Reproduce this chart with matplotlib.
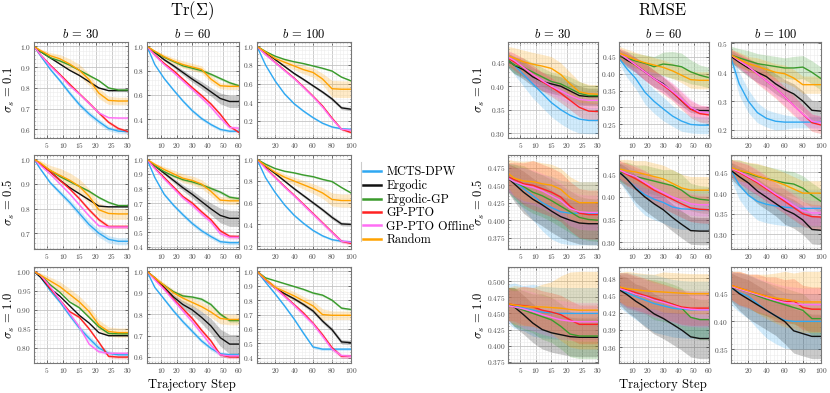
import matplotlib
matplotlib.use("Agg")
import matplotlib.pyplot as plt
from matplotlib.lines import Line2D
from matplotlib.ticker import MultipleLocator, AutoMinorLocator

plt.rcParams["font.family"] = "serif"
plt.rcParams["font.serif"] = ["cmr10"]
plt.rcParams["mathtext.fontset"] = "cm"
plt.rcParams["axes.formatter.use_mathtext"] = True

methods = ["MCTS-DPW", "Ergodic", "Ergodic-GP", "GP-PTO", "GP-PTO Offline", "Random"]
colors = ["#2fa8f2", "#111111", "#3a9b2c", "#ff2222", "#ff6ef5", "#ffa200"]
sigmas = ["0.1", "0.5", "1.0"]
budgets = [30, 60, 100]

steps_b30 = [1, 3, 6, 9, 12, 15, 18, 21, 24, 27, 30]
steps_b60 = [1, 6, 12, 18, 24, 30, 36, 42, 48, 54, 60]
steps_b100 = [1, 10, 20, 30, 40, 50, 60, 70, 80, 90, 100]

# ---- Tr(Sigma): [sigma row][budget col] ----
tr_mcts = [
    [[1.0, .955, .89, .835, .775, .72, .675, .638, .605, .592, .59],
     [1.0, .85, .735, .64, .55, .47, .405, .355, .315, .30, .30],
     [1.0, .80, .63, .49, .385, .305, .235, .175, .135, .115, .11]],
    [[1.0, .96, .905, .865, .825, .78, .735, .70, .675, .667, .667],
     [1.0, .875, .76, .685, .62, .56, .51, .47, .435, .428, .428],
     [1.0, .83, .695, .58, .485, .41, .345, .295, .26, .245, .24]],
    [[1.0, .985, .95, .92, .885, .852, .825, .80, .786, .782, .782],
     [1.0, .925, .87, .815, .765, .72, .675, .64, .615, .61, .61],
     [1.0, .925, .845, .76, .67, .57, .475, .46, .46, .46, .46]],
]
tr_erg = [
    [[1.0, .975, .945, .915, .885, .86, .83, .80, .787, .787, .787],
     [1.0, .95, .89, .84, .785, .73, .68, .625, .57, .545, .545],
     [1.0, .935, .86, .785, .71, .645, .577, .51, .436, .34, .325]],
    [[1.0, .98, .95, .915, .885, .86, .835, .81, .807, .807, .807],
     [1.0, .955, .905, .855, .805, .76, .71, .66, .615, .595, .595],
     [1.0, .935, .87, .80, .73, .665, .60, .535, .465, .405, .40]],
    [[1.0, .985, .955, .935, .91, .885, .865, .84, .832, .832, .832],
     [1.0, .97, .925, .88, .845, .82, .785, .745, .69, .66, .66],
     [1.0, .94, .885, .845, .81, .77, .725, .655, .595, .51, .505]],
]
tr_egp = [
    [[1.0, .975, .945, .93, .91, .885, .86, .835, .80, .79, .79],
     [1.0, .955, .91, .875, .84, .82, .80, .77, .735, .70, .675],
     [1.0, .945, .895, .86, .835, .815, .79, .765, .735, .67, .63]],
    [[1.0, .98, .955, .93, .91, .89, .87, .845, .825, .812, .812],
     [1.0, .955, .915, .885, .86, .845, .825, .80, .775, .74, .73],
     [1.0, .955, .915, .89, .875, .855, .84, .815, .795, .74, .69]],
    [[1.0, .99, .965, .945, .92, .905, .88, .855, .838, .837, .837],
     [1.0, .965, .935, .905, .885, .88, .87, .845, .80, .77, .77],
     [1.0, .955, .935, .915, .895, .875, .85, .835, .80, .745, .735]],
]
tr_pto = [
    [[1.0, .96, .91, .865, .818, .772, .727, .68, .635, .605, .59],
     [1.0, .93, .86, .80, .73, .66, .595, .525, .44, .34, .29],
     [1.0, .915, .83, .745, .66, .565, .465, .36, .23, .11, .075]],
    [[1.0, .98, .95, .915, .88, .84, .795, .755, .727, .727, .727],
     [1.0, .94, .875, .81, .745, .70, .64, .585, .51, .472, .47],
     [1.0, .92, .835, .75, .67, .585, .50, .415, .33, .245, .225]],
    [[1.0, .99, .955, .925, .895, .88, .85, .815, .778, .776, .776],
     [1.0, .965, .92, .87, .825, .78, .725, .675, .61, .60, .60],
     [1.0, .945, .89, .83, .77, .71, .64, .56, .47, .41, .41]],
]
tr_off = [
    [[1.0, .96, .905, .86, .81, .77, .725, .68, .657, .655, .655],
     [1.0, .925, .85, .785, .715, .645, .575, .50, .41, .33, .325],
     [1.0, .91, .825, .74, .655, .56, .46, .35, .22, .11, .10]],
    [[1.0, .975, .94, .90, .86, .815, .77, .73, .725, .725, .725],
     [1.0, .935, .865, .80, .735, .685, .625, .57, .49, .465, .465],
     [1.0, .915, .83, .745, .665, .58, .495, .41, .325, .245, .235]],
    [[1.0, .99, .96, .925, .89, .855, .81, .79, .786, .786, .786],
     [1.0, .96, .915, .865, .815, .765, .71, .655, .61, .605, .605],
     [1.0, .94, .885, .825, .765, .70, .635, .55, .46, .415, .41]],
]
tr_rnd = [
    [[1.0, .98, .955, .94, .915, .885, .84, .775, .74, .737, .737],
     [1.0, .96, .915, .88, .85, .83, .81, .73, .675, .67, .67],
     [1.0, .94, .87, .83, .79, .75, .72, .65, .545, .54, .54]],
    [[1.0, .985, .955, .935, .915, .89, .85, .795, .78, .778, .778],
     [1.0, .965, .93, .90, .87, .855, .83, .78, .72, .715, .715],
     [1.0, .94, .88, .835, .80, .765, .73, .69, .63, .62, .62]],
    [[1.0, .99, .975, .96, .94, .92, .895, .86, .843, .84, .84],
     [1.0, .97, .935, .90, .875, .855, .835, .81, .78, .775, .775],
     [1.0, .945, .89, .86, .83, .795, .76, .70, .695, .695, .695]],
]

# half-widths of the shaded bands
tr_mcts_sd = [
    [[0, .004, .007, .009, .011, .012, .013, .013, .012, .01, .01],
     [0, .005, .01, .012, .014, .015, .015, .014, .013, .012, .012],
     [0, .006, .01, .012, .012, .012, .012, .01, .01, .01, .01]],
    [[0, .004, .007, .01, .012, .014, .015, .016, .015, .014, .014],
     [0, .005, .01, .012, .014, .015, .015, .015, .014, .014, .014],
     [0, .006, .01, .012, .012, .012, .012, .01, .01, .01, .01]],
    [[0, .002, .004, .005, .006, .007, .008, .008, .007, .006, .006],
     [0, .004, .007, .009, .01, .01, .01, .01, .01, .01, .01],
     [0, .005, .008, .01, .01, .01, .01, .01, .01, .01, .01]],
]
tr_erg_sd = [
    [[0, .001, .002, .002, .002, .002, .002, .002, .002, .002, .002],
     [0, .005, .01, .015, .02, .025, .03, .035, .045, .05, .05],
     [0, .004, .008, .01, .012, .014, .015, .016, .018, .018, .018]],
    [[0, .001, .002, .002, .002, .002, .002, .002, .002, .002, .002],
     [0, .005, .01, .015, .02, .025, .03, .04, .05, .055, .055],
     [0, .004, .008, .01, .012, .014, .015, .016, .018, .018, .018]],
    [[0, .001, .001, .001, .001, .001, .001, .001, .001, .001, .001],
     [0, .004, .008, .012, .018, .022, .028, .035, .04, .045, .045],
     [0, .003, .006, .008, .01, .012, .013, .014, .015, .015, .015]],
]
tr_egp_sd = [
    [[0, .002, .003, .004, .004, .004, .005, .005, .005, .005, .005],
     [0, .004, .006, .008, .01, .01, .012, .012, .012, .012, .012],
     [0, .003, .005, .006, .007, .008, .008, .008, .008, .008, .008]],
    [[0, .002, .003, .004, .004, .004, .005, .005, .005, .005, .005],
     [0, .003, .005, .006, .008, .01, .01, .012, .012, .012, .012],
     [0, .003, .005, .006, .007, .008, .008, .008, .008, .008, .008]],
    [[0, .001, .002, .002, .002, .003, .003, .003, .003, .003, .003],
     [0, .002, .004, .005, .006, .007, .008, .008, .008, .008, .008],
     [0, .003, .004, .005, .006, .007, .008, .008, .008, .008, .008]],
]
tr_pto_sd = [
    [[0, .002, .004, .005, .006, .007, .008, .008, .008, .008, .008],
     [0, .004, .006, .008, .01, .012, .012, .012, .012, .01, .01],
     [0, .004, .006, .008, .01, .012, .012, .012, .012, .012, .012]],
    [[0, .002, .004, .005, .006, .007, .008, .008, .008, .008, .008],
     [0, .004, .006, .008, .01, .012, .012, .012, .012, .012, .012],
     [0, .004, .006, .008, .01, .012, .012, .012, .012, .012, .012]],
    [[0, .001, .002, .003, .003, .004, .004, .004, .004, .004, .004],
     [0, .003, .005, .006, .008, .008, .008, .008, .008, .008, .008],
     [0, .004, .006, .008, .01, .012, .012, .012, .012, .012, .012]],
]
tr_off_sd = [
    [[0, .002, .003, .004, .004, .005, .005, .005, .005, .005, .005],
     [0, .004, .007, .01, .012, .014, .015, .016, .016, .016, .016],
     [0, .005, .01, .015, .018, .02, .02, .02, .018, .015, .015]],
    [[0, .002, .003, .004, .005, .006, .006, .006, .006, .006, .006],
     [0, .004, .007, .01, .012, .014, .015, .016, .016, .016, .016],
     [0, .005, .01, .015, .018, .02, .02, .02, .018, .02, .02]],
    [[0, .001, .002, .003, .004, .004, .004, .004, .004, .004, .004],
     [0, .003, .005, .007, .008, .01, .01, .01, .01, .01, .01],
     [0, .004, .008, .01, .012, .015, .016, .016, .016, .016, .016]],
]
tr_rnd_sd = [
    [[0, .008, .015, .02, .025, .028, .028, .025, .02, .018, .018],
     [0, .01, .02, .025, .03, .03, .03, .03, .025, .025, .025],
     [0, .015, .025, .035, .04, .045, .05, .06, .09, .09, .09]],
    [[0, .01, .02, .028, .03, .03, .03, .028, .025, .022, .022],
     [0, .01, .02, .025, .03, .03, .03, .03, .025, .025, .025],
     [0, .015, .025, .03, .035, .04, .045, .05, .06, .06, .06]],
    [[0, .006, .01, .013, .015, .015, .015, .013, .012, .012, .012],
     [0, .008, .012, .015, .02, .02, .022, .025, .025, .025, .025],
     [0, .01, .02, .025, .03, .03, .035, .04, .03, .03, .03]],
]

# ---- RMSE ----
rm_mcts = [
    [[.455, .445, .425, .405, .385, .365, .35, .338, .33, .327, .327],
     [.445, .415, .385, .345, .318, .296, .275, .26, .25, .248, .248],
     [.45, .36, .30, .26, .24, .23, .227, .227, .227, .227, .227]],
    [[.462, .455, .445, .435, .425, .418, .412, .41, .41, .41, .41],
     [.455, .44, .42, .405, .395, .388, .378, .374, .373, .372, .372],
     [.455, .42, .395, .38, .373, .369, .366, .364, .363, .363, .363]],
    [[.465, .462, .458, .455, .452, .451, .45, .45, .45, .45, .45],
     [.46, .455, .448, .442, .436, .432, .428, .426, .425, .425, .425],
     [.46, .452, .445, .432, .42, .41, .402, .40, .40, .40, .40]],
]
rm_erg = [
    [[.455, .445, .435, .42, .41, .405, .40, .39, .38, .378, .378],
     [.455, .44, .425, .405, .385, .37, .345, .32, .295, .291, .291],
     [.455, .435, .415, .40, .385, .36, .34, .325, .30, .268, .265]],
    [[.46, .452, .44, .43, .422, .413, .405, .40, .396, .395, .395],
     [.455, .44, .418, .40, .385, .372, .355, .34, .326, .325, .325],
     [.455, .44, .425, .405, .39, .375, .36, .35, .335, .312, .31]],
    [[.465, .46, .448, .435, .425, .42, .417, .414, .413, .413, .413],
     [.46, .452, .44, .43, .418, .41, .40, .39, .378, .375, .375],
     [.462, .45, .44, .43, .42, .41, .40, .383, .378, .373, .373]],
]
rm_egp = [
    [[.455, .445, .44, .43, .42, .41, .405, .395, .385, .38, .38],
     [.455, .445, .437, .43, .42, .428, .425, .42, .405, .395, .388],
     [.46, .45, .44, .43, .425, .42, .415, .415, .418, .40, .378]],
    [[.46, .455, .448, .44, .435, .428, .42, .412, .404, .401, .40],
     [.455, .452, .445, .44, .435, .43, .425, .415, .40, .395, .393],
     [.46, .455, .448, .44, .435, .43, .425, .422, .412, .395, .38]],
    [[.465, .46, .455, .45, .445, .44, .43, .418, .415, .415, .415],
     [.462, .458, .452, .448, .443, .44, .435, .428, .412, .408, .408],
     [.462, .458, .453, .446, .44, .435, .43, .425, .42, .405, .405]],
]
rm_pto = [
    [[.46, .452, .44, .425, .41, .398, .385, .37, .355, .347, .346],
     [.46, .445, .425, .405, .385, .365, .345, .32, .295, .282, .278],
     [.46, .44, .42, .395, .37, .345, .315, .285, .255, .225, .217]],
    [[.462, .458, .452, .45, .445, .44, .433, .42, .41, .408, .408],
     [.46, .45, .44, .428, .415, .405, .395, .385, .376, .373, .372],
     [.46, .45, .438, .425, .41, .395, .38, .365, .35, .343, .342]],
    [[.465, .463, .462, .46, .455, .452, .448, .44, .433, .433, .433],
     [.465, .46, .455, .45, .445, .44, .435, .43, .428, .428, .428],
     [.465, .46, .455, .45, .445, .44, .435, .437, .425, .422, .422]],
]
rm_off = [
    [[.462, .455, .44, .425, .412, .40, .39, .38, .372, .37, .37],
     [.46, .445, .425, .405, .385, .368, .348, .325, .30, .287, .285],
     [.46, .44, .42, .395, .37, .345, .315, .285, .255, .23, .225]],
    [[.46, .455, .45, .447, .442, .435, .428, .417, .412, .411, .411],
     [.46, .452, .445, .432, .42, .41, .40, .393, .385, .383, .383],
     [.46, .452, .44, .428, .413, .398, .385, .37, .357, .352, .352]],
    [[.462, .46, .457, .453, .448, .444, .44, .438, .437, .437, .437],
     [.462, .458, .452, .448, .442, .438, .433, .428, .426, .425, .425],
     [.463, .458, .453, .448, .443, .438, .434, .432, .43, .43, .43]],
]
rm_rnd = [
    [[.465, .46, .452, .447, .443, .438, .425, .405, .388, .384, .383],
     [.46, .452, .44, .432, .425, .418, .408, .395, .382, .38, .38],
     [.46, .445, .43, .42, .41, .40, .395, .38, .357, .357, .357]],
    [[.467, .46, .456, .455, .452, .45, .444, .432, .425, .425, .425],
     [.462, .458, .455, .45, .445, .44, .43, .42, .415, .415, .415],
     [.462, .455, .45, .442, .435, .428, .42, .41, .40, .40, .40]],
    [[.465, .463, .461, .46, .46, .459, .458, .456, .455, .455, .455],
     [.465, .462, .46, .458, .457, .456, .455, .454, .453, .453, .453],
     [.465, .46, .455, .45, .445, .442, .44, .437, .435, .435, .435]],
]

rm_mcts_sd = [
    [[.015, .02, .025, .03, .03, .03, .03, .03, .03, .028, .028],
     [.015, .025, .03, .035, .035, .035, .03, .03, .025, .025, .025],
     [.02, .04, .04, .035, .03, .03, .025, .02, .02, .02, .02]],
    [[.02, .025, .03, .035, .04, .045, .045, .045, .045, .045, .045],
     [.02, .03, .04, .045, .045, .045, .045, .045, .045, .045, .045],
     [.02, .035, .04, .045, .045, .045, .045, .045, .045, .045, .045]],
    [[.03, .035, .035, .04, .04, .04, .04, .04, .04, .04, .04],
     [.03, .035, .04, .045, .05, .05, .05, .05, .05, .05, .05],
     [.03, .035, .04, .045, .05, .05, .05, .05, .05, .05, .05]],
]
rm_erg_sd = [
    [[.015, .018, .02, .02, .02, .02, .02, .02, .02, .018, .018],
     [.015, .02, .022, .025, .025, .02, .02, .015, .01, .01, .01],
     [.02, .025, .03, .035, .035, .035, .035, .035, .035, .035, .035]],
    [[.02, .025, .03, .03, .03, .03, .03, .03, .03, .03, .03],
     [.02, .025, .03, .03, .03, .03, .03, .03, .03, .03, .03],
     [.02, .025, .03, .03, .03, .03, .035, .035, .035, .035, .035]],
    [[.025, .03, .03, .03, .03, .03, .03, .03, .03, .03, .03],
     [.025, .03, .03, .035, .035, .035, .035, .035, .035, .035, .035],
     [.025, .03, .035, .035, .035, .035, .04, .04, .04, .04, .04]],
]
rm_egp_sd = [
    [[.015, .018, .02, .02, .02, .02, .022, .025, .025, .022, .022],
     [.015, .02, .022, .025, .03, .035, .04, .04, .035, .03, .03],
     [.03, .032, .035, .035, .035, .035, .035, .04, .04, .04, .04]],
    [[.02, .025, .03, .03, .03, .03, .03, .03, .03, .03, .03],
     [.02, .025, .025, .03, .03, .03, .035, .035, .03, .03, .03],
     [.02, .025, .025, .03, .03, .03, .03, .03, .03, .03, .03]],
    [[.025, .03, .03, .03, .035, .035, .035, .035, .035, .035, .035],
     [.025, .03, .03, .03, .035, .035, .035, .035, .035, .035, .035],
     [.025, .03, .03, .03, .03, .03, .03, .03, .03, .03, .03]],
]
rm_pto_sd = [
    [[.015, .018, .02, .02, .02, .02, .02, .02, .02, .02, .02],
     [.015, .02, .022, .025, .025, .025, .025, .025, .025, .025, .025],
     [.02, .025, .03, .035, .035, .035, .035, .035, .03, .03, .03]],
    [[.02, .025, .03, .035, .035, .035, .035, .035, .035, .035, .035],
     [.02, .025, .025, .03, .03, .03, .03, .03, .03, .03, .03],
     [.02, .025, .03, .03, .03, .03, .03, .03, .03, .03, .03]],
    [[.025, .025, .03, .03, .03, .03, .03, .03, .03, .03, .03],
     [.025, .03, .03, .03, .03, .03, .03, .03, .03, .03, .03],
     [.025, .03, .03, .035, .035, .04, .04, .04, .04, .04, .04]],
]
rm_off_sd = [
    [[.015, .015, .018, .018, .018, .018, .018, .018, .018, .018, .018],
     [.015, .02, .022, .025, .025, .025, .025, .025, .025, .02, .02],
     [.02, .025, .03, .03, .03, .03, .03, .03, .03, .025, .025]],
    [[.02, .02, .025, .025, .025, .025, .025, .025, .025, .025, .025],
     [.02, .02, .025, .025, .025, .025, .025, .025, .025, .025, .025],
     [.02, .025, .03, .03, .03, .03, .03, .03, .03, .03, .03]],
    [[.025, .025, .03, .03, .03, .03, .03, .03, .03, .03, .03],
     [.025, .03, .03, .03, .03, .03, .03, .03, .03, .03, .03],
     [.025, .03, .03, .03, .03, .03, .03, .03, .03, .03, .03]],
]
rm_rnd_sd = [
    [[.02, .022, .025, .025, .025, .025, .025, .025, .022, .02, .02],
     [.02, .02, .022, .022, .022, .022, .022, .022, .025, .025, .025],
     [.02, .025, .025, .03, .03, .03, .03, .03, .03, .03, .03]],
    [[.02, .025, .028, .03, .03, .03, .03, .03, .03, .03, .03],
     [.02, .025, .025, .03, .03, .03, .03, .03, .03, .03, .03],
     [.02, .025, .025, .03, .03, .03, .03, .03, .03, .03, .03]],
    [[.025, .03, .03, .03, .035, .04, .05, .058, .06, .06, .06],
     [.025, .03, .03, .03, .03, .035, .035, .035, .035, .035, .035],
     [.025, .03, .03, .035, .04, .045, .05, .05, .055, .055, .055]],
]

tr_means = [tr_mcts, tr_erg, tr_egp, tr_pto, tr_off, tr_rnd]
tr_sds = [tr_mcts_sd, tr_erg_sd, tr_egp_sd, tr_pto_sd, tr_off_sd, tr_rnd_sd]
rm_means = [rm_mcts, rm_erg, rm_egp, rm_pto, rm_off, rm_rnd]
rm_sds = [rm_mcts_sd, rm_erg_sd, rm_egp_sd, rm_pto_sd, rm_off_sd, rm_rnd_sd]
steps = [steps_b30, steps_b60, steps_b100]

# y tick spacing per panel
tr_ystep = [[0.1, 0.2, 0.2], [0.1, 0.1, 0.2], [0.05, 0.1, 0.1]]
rm_ystep = [[0.05, 0.05, 0.1], [0.025, 0.05, 0.05], [0.025, 0.03, 0.05]]
xstep = [5, 10, 20]

W, H = 830, 393
fig = plt.figure(figsize=(W / 100, H / 100), dpi=100)

rows_px = [(42, 138), (155, 249), (267, 363)]
left_cols = [(34, 128), (147, 239), (257, 351)]
right_cols = [(508, 598), (619, 709), (731, 821)]


def make_panel(x0, x1, y0, y1):
    ax = fig.add_axes([x0 / W, 1 - y1 / H, (x1 - x0) / W, (y1 - y0) / H])
    for s in ax.spines.values():
        s.set_color("#777777")
        s.set_linewidth(0.8)
    ax.tick_params(which="both", direction="in", labelsize=5.3, colors="#444444",
                   top=True, right=True, pad=2)
    ax.tick_params(which="major", length=2, width=0.5)
    ax.tick_params(which="minor", length=1, width=0.4)
    ax.grid(which="major", color="#c4c4c4", linewidth=0.6)
    ax.grid(which="minor", color="#ececec", linewidth=0.4)
    ax.set_axisbelow(True)
    return ax


def draw_group(cols, means, sds, ysteps):
    axes = []
    for r, (y0, y1) in enumerate(rows_px):
        for c, (x0, x1) in enumerate(cols):
            ax = make_panel(x0, x1, y0, y1)
            xs = steps[c]
            for m in range(len(methods)):
                mu = means[m][r][c]
                sd = sds[m][r][c]
                lo = [a - b for a, b in zip(mu, sd)]
                hi = [a + b for a, b in zip(mu, sd)]
                ax.fill_between(xs, lo, hi, color=colors[m], alpha=0.22, lw=0)
                ax.plot(xs, mu, color=colors[m], lw=1.0)
            ax.set_xlim(1, budgets[c])
            ax.xaxis.set_major_locator(MultipleLocator(xstep[c]))
            ax.yaxis.set_major_locator(MultipleLocator(ysteps[r][c]))
            ax.xaxis.set_minor_locator(AutoMinorLocator(5))
            ax.yaxis.set_minor_locator(AutoMinorLocator(5))
            if r == 0:
                ax.set_title(f"$b\\,=\\,{budgets[c]}$", fontsize=9, pad=3)
            axes.append(ax)
    return axes


draw_group(left_cols, tr_means, tr_sds, tr_ystep)
draw_group(right_cols, rm_means, rm_sds, rm_ystep)

# group titles and shared labels
fig.text(192 / W, 1 - 11 / H, r"$\mathrm{Tr}(\Sigma)$", fontsize=12, ha="center", va="center")
fig.text(663 / W, 1 - 10 / H, "RMSE", fontsize=12, ha="center", va="center")
fig.text(192 / W, 1 - 385 / H, "Trajectory Step", fontsize=9.2, ha="center", va="center")
fig.text(663 / W, 1 - 385 / H, "Trajectory Step", fontsize=9.2, ha="center", va="center")
for r, (y0, y1) in enumerate(rows_px):
    yc = 1 - (y0 + y1) / 2 / H
    label = f"$\\sigma_s\\,=\\,{sigmas[r]}$"
    fig.text(9 / W, yc, label, fontsize=9, rotation=90, ha="center", va="center")
    fig.text(479 / W, yc, label, fontsize=9, rotation=90, ha="center", va="center")

# legend
handles = [Line2D([], [], color=colors[m], lw=1.8) for m in range(len(methods))]
fig.legend(handles, methods, loc="upper left", bbox_to_anchor=(363 / W, 1 - 166 / H),
           frameon=False, fontsize=8.8, handlelength=1.45, handletextpad=0.45,
           labelspacing=0.1, borderpad=0, borderaxespad=0)
fig.add_artist(Line2D([361 / W, 361 / W], [1 - 162 / H, 1 - 241 / H],
                      color="#cccccc", lw=0.8, transform=fig.transFigure))

fig.savefig("out.png", dpi=100)
